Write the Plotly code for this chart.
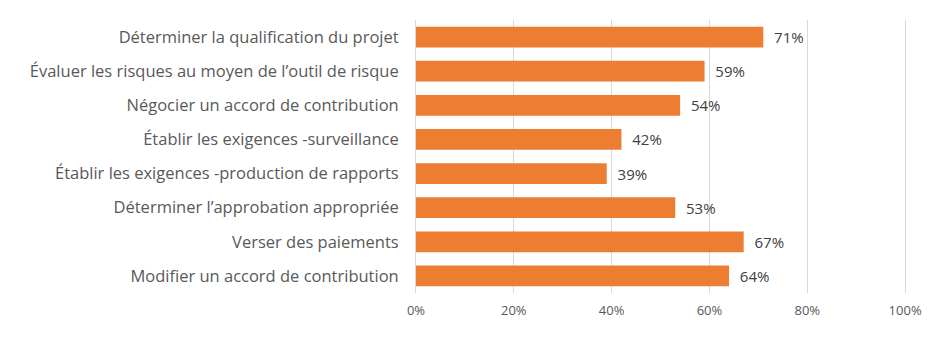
import plotly.graph_objects as go

categories = [
    "Déterminer la qualification du projet",
    "Évaluer les risques au moyen de l’outil de risque",
    "Négocier un accord de contribution",
    "Établir les exigences -surveillance",
    "Établir les exigences -production de rapports",
    "Déterminer l’approbation appropriée",
    "Verser des paiements",
    "Modifier un accord de contribution",
]
values = [0.71, 0.59, 0.54, 0.42, 0.39, 0.53, 0.67, 0.64]
value_labels = ["71%", "59%", "54%", "42%", "39%", "53%", "67%", "64%"]
x_ticks = [0, 0.2, 0.4, 0.6, 0.8, 1.0]
x_tick_labels = ["0%", "20%", "40%", "60%", "80%", "100%"]

fig = go.Figure(go.Bar(
    y=categories,
    x=values,
    orientation="h",
    marker=dict(color="#ED7D31", line=dict(width=0)),
    text=["\u00a0\u00a0" + t for t in value_labels],
    textposition="outside",
    textfont=dict(size=15, color="#404040", family="Open Sans"),
    cliponaxis=False,
))

fig.update_layout(
    width=944, height=343,
    margin=dict(l=416, r=34, t=20, b=50),
    paper_bgcolor="white",
    plot_bgcolor="white",
    bargap=0.39,
    showlegend=False,
    font=dict(family="Open Sans", color="#595959"),
)
fig.update_xaxes(
    range=[0, 1.01],
    tickvals=x_ticks,
    ticktext=x_tick_labels,
    showgrid=True,
    gridcolor="#D9D9D9",
    gridwidth=1,
    zeroline=False,
    showline=False,
    tickfont=dict(size=13, color="#595959"),
    ticks="",
    ticklabelstandoff=8,
)
fig.update_yaxes(
    autorange="reversed",
    tickfont=dict(size=16.5, color="#595959"),
    showgrid=False,
    showline=True,
    linecolor="#D9D9D9",
    ticks="",
    ticklabelstandoff=13,
)

fig.write_html("out.html")
